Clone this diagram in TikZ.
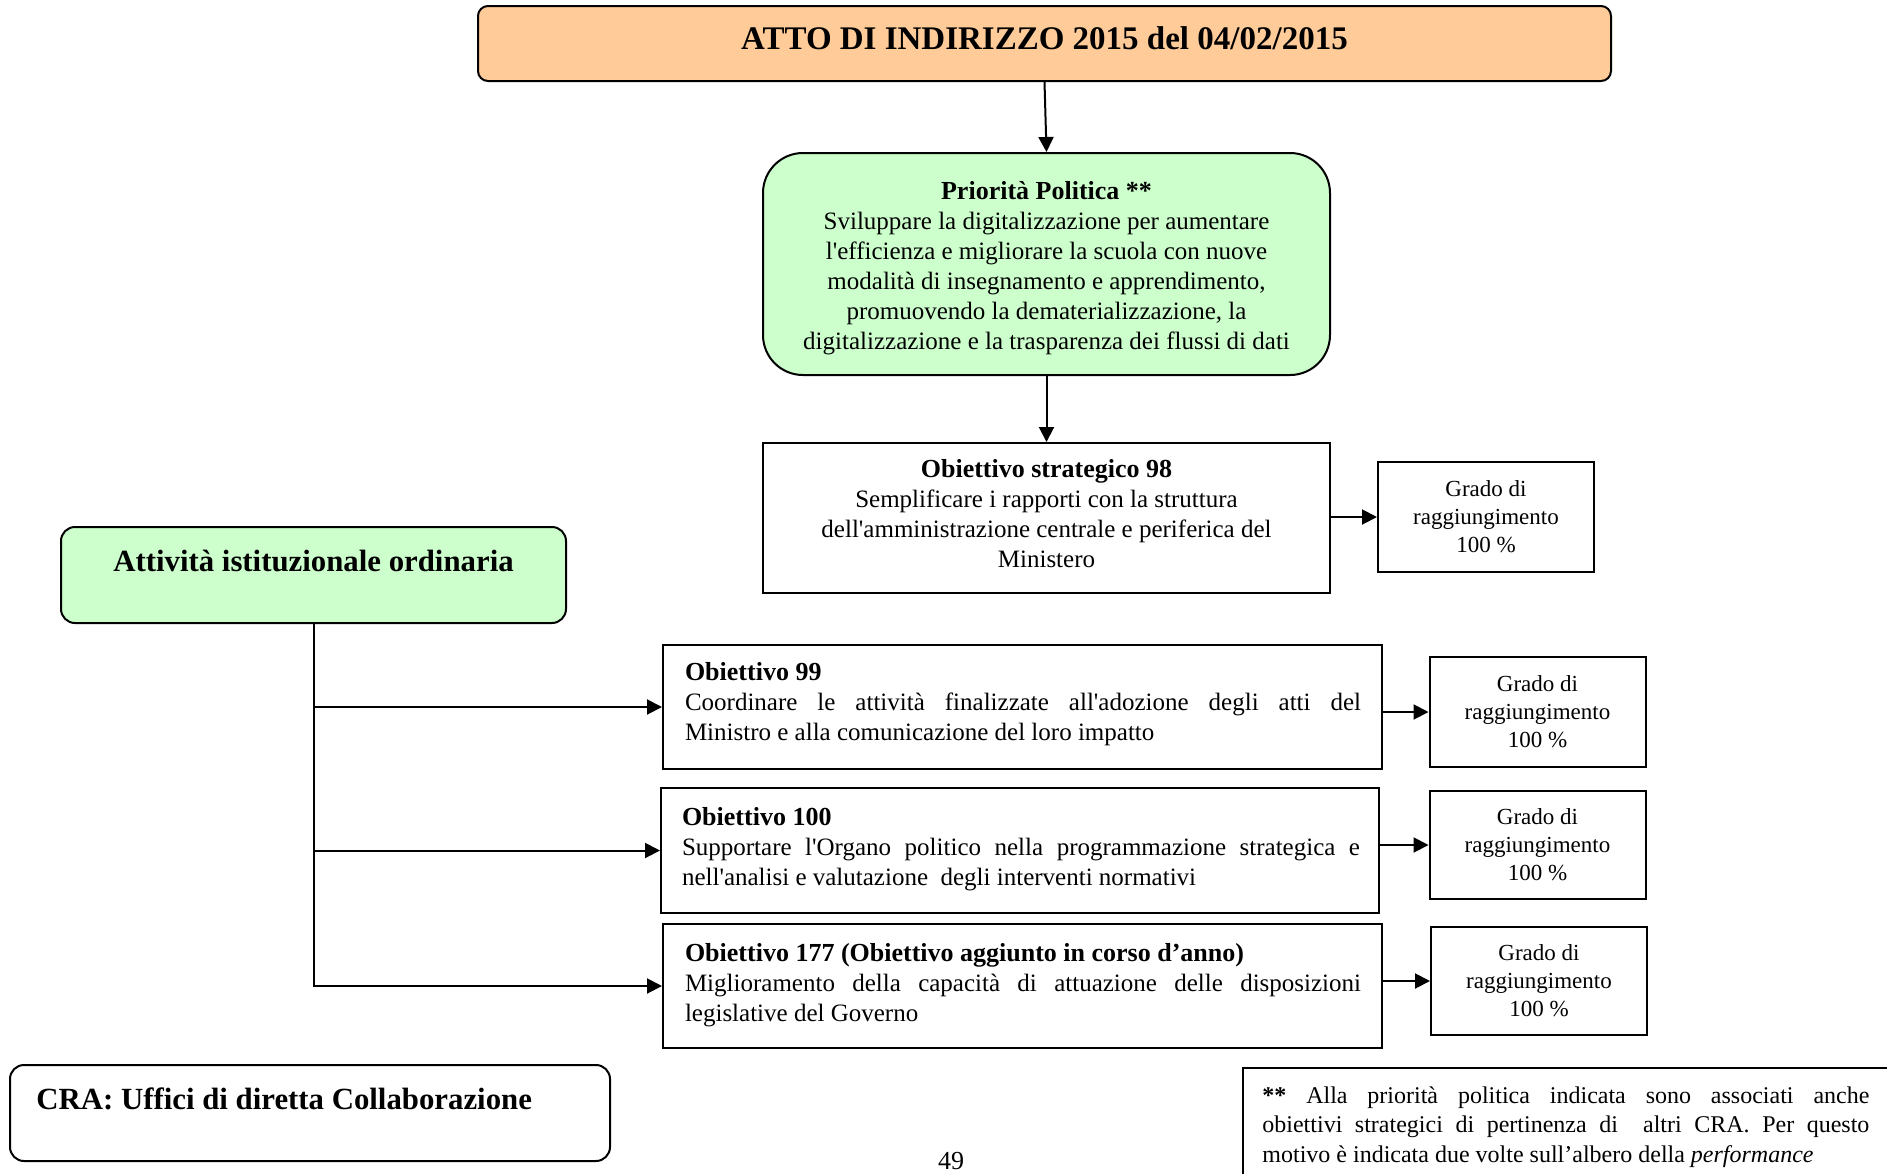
\documentclass[tikz,border=0pt]{standalone}
\usepackage{fontspec}
\setmainfont{Liberation Serif}[Ligatures=TeXOff]
\usetikzlibrary{arrows.meta}
\definecolor{peach}{HTML}{FFCC99}
\definecolor{mint}{HTML}{CCFFCC}
\newcommand\hd[1]{{\fontsize{13}{15}\selectfont\bfseries #1}}
\begin{document}
\begin{tikzpicture}[x=0.5pt,y=-0.5pt,
  frame/.style={draw=black, line width=1pt, inner sep=0pt},
  body/.style={font=\fontsize{12.5}{15}\selectfont, inner sep=0pt},
  big/.style={font=\fontsize{15.4}{18}\selectfont\bfseries, inner sep=0pt},
  grado/.style={frame, minimum width=108pt, minimum height=55pt, align=center,
                font=\fontsize{11.5}{14}\selectfont},
  link/.style={line width=1pt, -{Triangle[length=7.5pt,width=7.5pt]}},
]
\useasboundingbox (0,0) rectangle (1887,1174);
\fill[white] (0,0) rectangle (1887,1174);

% header
\node[frame, fill=peach, rounded corners=5pt, minimum width=566.5pt, minimum height=37.5pt] (atto) at (1044.5,43.5) {};
\node[font=\fontsize{16.5}{20}\selectfont\bfseries, inner sep=0pt] (attot) at (1044.5,38) {ATTO DI INDIRIZZO 2015 del 04/02/2015};

% political priority
\node[frame, fill=mint, rounded corners=20pt, minimum width=283.5pt, minimum height=111pt] (prio) at (1046.5,264) {};
\node[body, align=center] (priot) at (1046.5,268) {\hd{Priorità Politica **}\\
  Sviluppare la digitalizzazione per aumentare\\
  l'efficienza e migliorare la scuola con nuove\\
  modalità di insegnamento e apprendimento,\\
  promuovendo la dematerializzazione, la\\
  digitalizzazione e la trasparenza dei flussi di dati};

% strategic objective
\node[frame, minimum width=283.5pt, minimum height=75pt] (o98) at (1046.5,518) {};
\node[body, align=center] (o98t) at (1046.5,514) {\hd{Obiettivo strategico 98}\\
  Semplificare i rapporti con la struttura\\
  dell'amministrazione centrale e periferica del\\
  Ministero};
\node[grado] (g1) at (1486,517) {Grado di\\raggiungimento\\100 \%};

% ordinary activity
\node[frame, fill=mint, rounded corners=7pt, minimum width=252.5pt, minimum height=48pt] (att) at (313.5,575) {};
\node[big] (attt) at (313.5,561) {Attività istituzionale ordinaria};

% objectives
\node[frame, minimum width=359.5pt, minimum height=62pt] (o99) at (1022.5,707) {};
\node[body, text width=338pt, align=justify] (o99t) at (1023,704) {\hd{Obiettivo 99}\\
  Coordinare le attività finalizzate all'adozione degli atti del\linebreak
  Ministro e alla comunicazione del loro impatto};

\node[frame, minimum width=359pt, minimum height=62.5pt] (o100) at (1020,850.5) {};
\node[body, text width=339pt, align=justify] (o100t) at (1021,849) {\hd{Obiettivo 100}\\
  Supportare l'Organo politico nella programmazione strategica e\linebreak
  nell'analisi e valutazione\ \ degli interventi normativi};

\node[frame, minimum width=359.5pt, minimum height=62pt] (o177) at (1022.5,986) {};
\node[body, text width=338pt, align=justify] (o177t) at (1023,985) {\hd{Obiettivo 177 (Obiettivo aggiunto in corso d’anno)}\\
  Miglioramento della capacità di attuazione delle disposizioni\linebreak
  legislative del Governo};

\node[grado] (g2) at (1537.5,712) {Grado di\\raggiungimento\\100 \%};
\node[grado, minimum height=54pt] (g3) at (1537.5,845) {Grado di\\raggiungimento\\100 \%};
\node[grado, minimum height=54pt] (g4) at (1539,981) {Grado di\\raggiungimento\\100 \%};

% connectors
\draw[link] (atto.south) -- (prio.north);
\draw[link] (prio.south) -- (o98.north);
\draw[link] (o98.east |- g1.west) -- (g1.west);
\draw[link] (att.south) |- (o177.west);
\draw[link] (att.south |- o99.west) -- (o99.west);
\draw[link] (att.south |- o100.west) -- (o100.west);
\draw[link] (o99.east |- g2.west) -- (g2.west);
\draw[link] (o100.east |- g3.west) -- (g3.west);
\draw[link] (o177.east |- g4.west) -- (g4.west);

% responsibility centre
\node[frame, rounded corners=7pt, minimum width=300pt, minimum height=48pt] (cra) at (310,1113) {};
\node[big, anchor=west] (crat) at (36,1099) {CRA: Uffici di diretta Collaborazione};

% page number
\node[font=\fontsize{13}{15}\selectfont, inner sep=0pt] (pg) at (951,1161) {49};

% footnote
\node[frame, minimum width=340pt, minimum height=70pt, anchor=north west] (note) at (1242,1067) {};
\node[font=\fontsize{12}{14.75}\selectfont, inner sep=0pt, text width=303.5pt, align=justify, anchor=north west] (notet) at (1262,1086) {\textbf{**} Alla priorità politica indicata sono associati anche\linebreak
  obiettivi strategici di pertinenza di\ \ altri CRA. Per questo\linebreak
  motivo è indicata due volte sull’albero della \textit{performance}};
\end{tikzpicture}
\end{document}
